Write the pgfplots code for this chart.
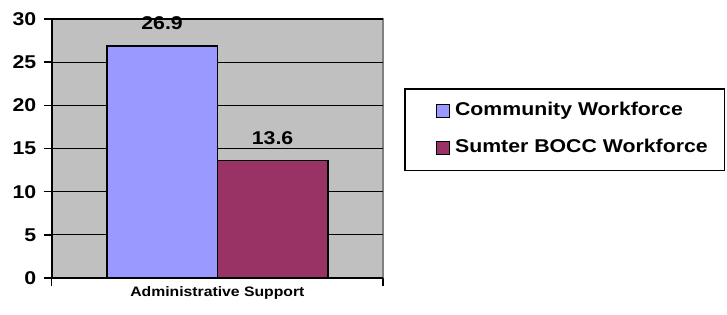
\documentclass[border=0pt]{standalone}
\usepackage{fontspec}
\setmainfont{Liberation Sans}[FakeStretch=1.15]
\usepackage{pgfplots}
\pgfplotsset{compat=1.18}
\definecolor{plotbg}{HTML}{C0C0C0}
\definecolor{comm}{HTML}{9999FF}
\definecolor{sumter}{HTML}{993366}
\definecolor{bordergray}{HTML}{808080}
\begin{document}
\begin{tikzpicture}[x=1pt,y=1pt]
\path[use as bounding box] (0,0) rectangle (727,314);
\begin{axis}[
  at={(51.7pt,36pt)}, anchor=south west,
  scale only axis, width=331.3pt, height=259pt,
  xmin=-1.5, xmax=1.5, ymin=0, ymax=30,
  clip=false,
  /pgf/number format/assume math mode=true,
  axis background/.style={fill=plotbg, draw=bordergray, line width=1.2pt},
  axis lines=left,
  axis line style={-, black, line width=1.8pt},
  ymajorgrids,
  grid style={black, line width=1.3pt},
  ytick={0,5,...,30},
  xtick={-1.5,1.5},
  xticklabels={},
  extra x ticks={0},
  extra x tick labels={Administrative Support},
  extra x tick style={major tick length=0pt, xticklabel style={font=\bfseries\fontsize{13.7}{13.7}\selectfont, yshift=-5pt}},
  tick align=outside,
  major tick length=8pt,
  tick style={black, line width=1.5pt},
  yticklabel style={font=\bfseries\fontsize{18.5}{18.5}\selectfont, xshift=-4pt},
  ybar,
  bar width=110.5pt,
  nodes near coords,
  every node near coord/.append style={anchor=base, yshift=16.5pt, font=\bfseries\fontsize{18.5}{18.5}\selectfont, black},
  legend style={at={(1.0634,0.7336)}, anchor=north west, draw=black, line width=1.5pt,
    font=\bfseries\fontsize{18.5}{18.5}\selectfont,
    inner xsep=12pt, inner ysep=10.5pt,
    nodes={inner xsep=5pt, inner ysep=3pt, text height=13.5pt, text depth=4pt},
    row sep=13.5pt},
  legend cell align=left,
  legend image code/.code={\path (0pt,0pt); \draw[#1, line width=1.2pt] (19pt,-6.5pt) rectangle (32pt,6.5pt);},
]
\addplot[fill=comm, draw=black, line width=1.5pt, bar shift=-55.25pt] coordinates {(0,26.9)};
\addplot[fill=sumter, draw=black, line width=1.5pt, bar shift=55.25pt] coordinates {(0,13.6)};
\legend{Community Workforce, Sumter BOCC Workforce}
\end{axis}
\end{tikzpicture}
\end{document}
